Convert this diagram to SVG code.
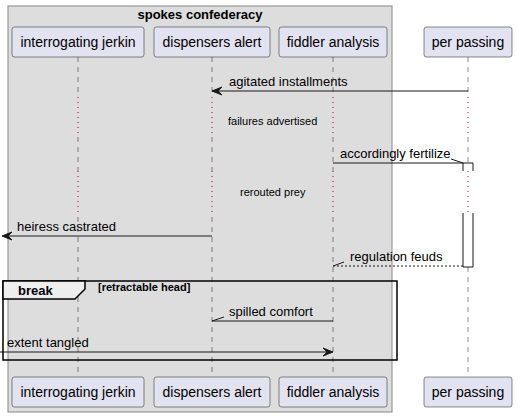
<svg xmlns="http://www.w3.org/2000/svg" width="517" height="417" viewBox="0 0 517 417">
<style>
text{font-family:"Liberation Sans",Arial,sans-serif;fill:#000}
.pbox{fill:#E2E2F0;stroke:#181818;stroke-width:0.5}
.pt{font-size:14px;text-anchor:middle}
.life{stroke:#181818;stroke-width:0.5;stroke-dasharray:5,5}
.delay{stroke:#A80036;stroke-width:1;stroke-dasharray:1,4}
.msg{stroke:#181818;stroke-width:1;fill:none}
.ml{font-size:13px}
.dl{font-size:11px}
.head{fill:#181818;stroke:#181818;stroke-width:1}
</style>
<g id="group-spokes-confederacy">
<rect x="8" y="6" width="384" height="406" fill="#DDDDDD" stroke="#888888" stroke-width="1"/>
<text x="200" y="19" font-size="13" font-weight="bold" text-anchor="middle">spokes confederacy</text>
</g>
<g id="lifelines">
<line class="life" x1="78" y1="57" x2="78" y2="377"/>
<line class="life" x1="212" y1="57" x2="212" y2="377"/>
<line class="life" x1="333" y1="57" x2="333" y2="377"/>
<line class="life" x1="468" y1="57" x2="468" y2="377"/>
</g>
<g id="delays">
<rect x="70" y="97" width="406" height="40" fill="#DDDDDD" opacity="0"/>
<line x1="78" y1="97" x2="78" y2="137" stroke="#DDDDDD" stroke-width="2"/>
<line x1="212" y1="97" x2="212" y2="137" stroke="#DDDDDD" stroke-width="2"/>
<line x1="333" y1="97" x2="333" y2="137" stroke="#DDDDDD" stroke-width="2"/>
<line x1="468" y1="97" x2="468" y2="137" stroke="#FFFFFF" stroke-width="2"/>
<line class="delay" x1="78" y1="97" x2="78" y2="137"/>
<line class="delay" x1="212" y1="97" x2="212" y2="137"/>
<line class="delay" x1="333" y1="97" x2="333" y2="137"/>
<line class="delay" x1="468" y1="97" x2="468" y2="137"/>
<text class="dl" x="228" y="125">failures advertised</text>
<line x1="78" y1="171" x2="78" y2="212" stroke="#DDDDDD" stroke-width="2"/>
<line x1="212" y1="171" x2="212" y2="212" stroke="#DDDDDD" stroke-width="2"/>
<line x1="333" y1="171" x2="333" y2="212" stroke="#DDDDDD" stroke-width="2"/>
<line class="delay" x1="78" y1="171" x2="78" y2="212"/>
<line class="delay" x1="212" y1="171" x2="212" y2="212"/>
<line class="delay" x1="333" y1="171" x2="333" y2="212"/>
<text class="dl" x="240" y="196">rerouted prey</text>
</g>
<g id="activation-per-passing">
<rect x="463" y="163" width="10" height="104" fill="#FFFFFF" stroke="none"/>
<path d="M463,171 V163 H473 V171" fill="none" stroke="#181818" stroke-width="1"/>
<path d="M463,213 V267 H473 V213" fill="none" stroke="#181818" stroke-width="1"/>
<line class="delay" x1="468" y1="171" x2="468" y2="212"/>
</g>
<g id="connectors">
<line class="msg" x1="468" y1="91" x2="213" y2="91"/>
<polygon class="head" points="212,91 222,87 218,91 222,95"/>
<text class="ml" x="229" y="86">agitated installments</text>
<line class="msg" x1="333" y1="163" x2="463" y2="163"/>
<line class="msg" x1="463" y1="163" x2="451" y2="159"/>
<text class="ml" x="340" y="158">accordingly fertilize</text>
<line class="msg" x1="212" y1="236" x2="3" y2="236"/>
<polygon class="head" points="2,236 12,232 8,236 12,240"/>
<text class="ml" x="17" y="231">heiress castrated</text>
<line class="msg" x1="463" y1="266" x2="333" y2="266" stroke-dasharray="2,2"/>
<line class="msg" x1="333" y1="266" x2="344" y2="262"/>
<text class="ml" x="350" y="261">regulation feuds</text>
<line class="msg" x1="333" y1="321" x2="212" y2="321"/>
<line class="msg" x1="212" y1="321" x2="224" y2="317"/>
<text class="ml" x="229" y="316">spilled comfort</text>
<line class="msg" x1="0" y1="352" x2="332" y2="352"/>
<polygon class="head" points="333,352 323,348 327,352 323,356"/>
<text class="ml" x="7" y="347">extent tangled</text>
</g>
<g id="break-frame">
<rect x="3" y="281" width="394" height="79" fill="none" stroke="#000000" stroke-width="1.5"/>
<path d="M3,281 H85 V289 L75,299 H3 Z" fill="#EEEEEE" stroke="#000000" stroke-width="1.5"/>
<text x="18" y="295" font-size="13" font-weight="bold">break</text>
<text x="98" y="291" font-size="11" font-weight="bold">[retractable head]</text>
</g>
<g id="p-interrogating-jerkin">
<rect class="pbox" x="12" y="27" width="132" height="30" rx="2.5"/>
<text class="pt" x="78" y="47">interrogating jerkin</text>
<rect class="pbox" x="12" y="377" width="132" height="30" rx="2.5"/>
<text class="pt" x="78" y="397">interrogating jerkin</text>
</g>
<g id="p-dispensers-alert">
<rect class="pbox" x="154" y="27" width="116" height="30" rx="2.5"/>
<text class="pt" x="212" y="47">dispensers alert</text>
<rect class="pbox" x="154" y="377" width="116" height="30" rx="2.5"/>
<text class="pt" x="212" y="397">dispensers alert</text>
</g>
<g id="p-fiddler-analysis">
<rect class="pbox" x="279" y="27" width="108" height="30" rx="2.5"/>
<text class="pt" x="333" y="47">fiddler analysis</text>
<rect class="pbox" x="279" y="377" width="108" height="30" rx="2.5"/>
<text class="pt" x="333" y="397">fiddler analysis</text>
</g>
<g id="p-per-passing">
<rect class="pbox" x="424" y="27" width="88" height="30" rx="2.5"/>
<text class="pt" x="468" y="47">per passing</text>
<rect class="pbox" x="424" y="377" width="88" height="30" rx="2.5"/>
<text class="pt" x="468" y="397">per passing</text>
</g>
</svg>
